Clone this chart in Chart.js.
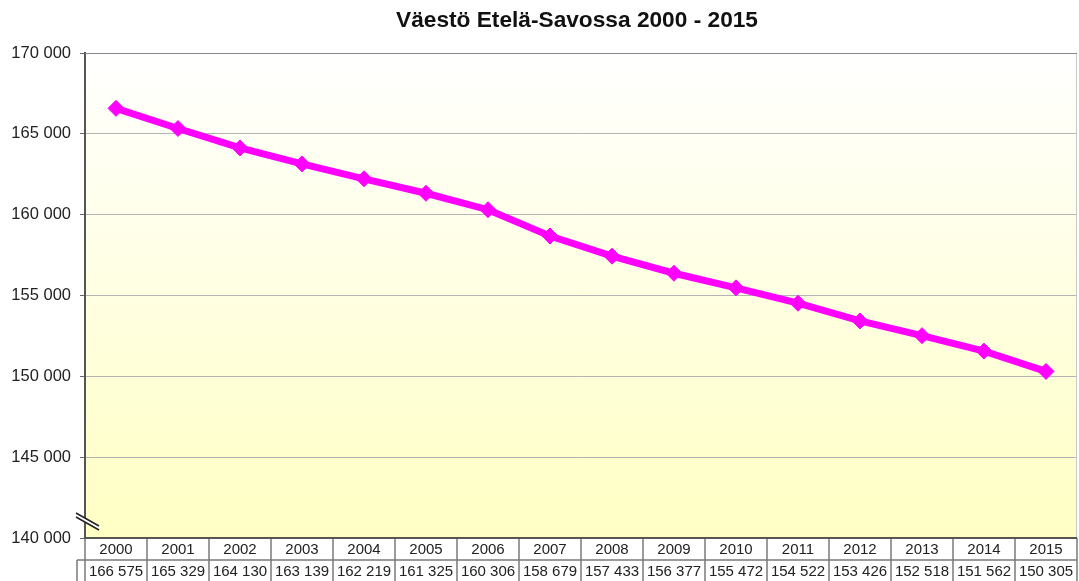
<!DOCTYPE html>
<html>
<head>
<meta charset="utf-8">
<script src="https://cdn.jsdelivr.net/npm/chart.js@4/dist/chart.umd.min.js"></script>
<style>
  html, body { margin: 0; padding: 0; background: #ffffff; }
  #wrap { width: 1079px; height: 581px; position: relative; }
</style>
</head>
<body>
<div id="wrap"><canvas id="c" width="1079" height="581"></canvas></div>
<script>
const chartTitle = 'Väestö Etelä-Savossa 2000 - 2015';
const years = ['2000','2001','2002','2003','2004','2005','2006','2007','2008','2009','2010','2011','2012','2013','2014','2015'];
const population = [166575,165329,164130,163139,162219,161325,160306,158679,157433,156377,155472,154522,153426,152518,151562,150305];
const yMin = 140000;
const yMax = 170000;
const yStep = 5000;

function fmt(v) {
  return String(Math.round(v)).replace(/\B(?=(\d{3})+(?!\d))/g, ' ');
}

const FONT = "'Liberation Sans', Arial, sans-serif";

const bgPlugin = {
  id: 'bg',
  beforeDraw(chart) {
    const {ctx, chartArea: a} = chart;
    const g = ctx.createLinearGradient(0, a.top, 0, a.bottom);
    g.addColorStop(0, '#ffffff');
    g.addColorStop(1, '#ffffc4');
    ctx.save();
    ctx.fillStyle = g;
    ctx.fillRect(a.left, a.top, a.right - a.left, a.bottom - a.top);
    ctx.restore();
  }
};

const decoPlugin = {
  id: 'deco',
  afterDraw(chart) {
    const {ctx, chartArea: a} = chart;
    const xs = chart.scales.x;
    ctx.save();
    // title
    ctx.fillStyle = '#111111';
    ctx.font = 'bold 22.7px ' + FONT;
    ctx.textAlign = 'center';
    ctx.textBaseline = 'middle';
    ctx.fillText(chartTitle, 577, 21);

    // right border
    ctx.strokeStyle = '#c8c8c8';
    ctx.lineWidth = 1;
    ctx.beginPath();
    ctx.moveTo(a.right - 0.5, a.top);
    ctx.lineTo(a.right - 0.5, a.bottom);
    ctx.stroke();
    // top border
    ctx.strokeStyle = '#888888';
    ctx.beginPath();
    ctx.moveTo(a.left, a.top + 0.5);
    ctx.lineTo(a.right, a.top + 0.5);
    ctx.stroke();

    // data table
    const n = years.length;
    const w = xs.getPixelForValue(1) - xs.getPixelForValue(0);
    const row1Top = a.bottom;
    const row1Bot = a.bottom + 22;
    const row2Bot = chart.height + 2;
    ctx.strokeStyle = '#7a7a7a';
    ctx.lineWidth = 1.5;
    ctx.beginPath();
    ctx.moveTo(a.left - 8, row1Bot);
    ctx.lineTo(a.right, row1Bot);
    ctx.moveTo(a.left - 8, row1Bot);
    ctx.lineTo(a.left - 8, row2Bot);
    for (let i = 0; i <= n; i++) {
      const x = xs.getPixelForValue(i) - w / 2;
      ctx.moveTo(x, row1Top);
      ctx.lineTo(x, row2Bot);
    }
    ctx.stroke();

    // bottom axis line
    ctx.strokeStyle = '#555555';
    ctx.lineWidth = 2;
    ctx.beginPath();
    ctx.moveTo(a.left - 1, a.bottom);
    ctx.lineTo(a.right, a.bottom);
    ctx.stroke();

    ctx.fillStyle = '#222222';
    ctx.font = '15px ' + FONT;
    ctx.textAlign = 'center';
    ctx.textBaseline = 'middle';
    for (let i = 0; i < n; i++) {
      const x = xs.getPixelForValue(i);
      ctx.fillText(years[i], x, row1Top + 12);
      ctx.fillText(fmt(population[i]), x, row1Bot + 12);
    }

    // axis break marker
    const bx = a.left, by = a.bottom - 18;
    ctx.fillStyle = '#ffffff';
    ctx.beginPath();
    ctx.moveTo(bx - 9, by - 7);
    ctx.lineTo(bx + 14, by + 6);
    ctx.lineTo(bx + 14, by + 10);
    ctx.lineTo(bx - 9, by - 3);
    ctx.closePath();
    ctx.fill();
    ctx.strokeStyle = '#222222';
    ctx.lineWidth = 1.5;
    ctx.beginPath();
    ctx.moveTo(bx - 9, by - 7);
    ctx.lineTo(bx + 14, by + 6);
    ctx.moveTo(bx - 9, by - 3);
    ctx.lineTo(bx + 14, by + 10);
    ctx.stroke();
    ctx.restore();
  }
};

new Chart(document.getElementById('c'), {
  type: 'line',
  data: {
    labels: years,
    datasets: [{
      label: 'Väestö',
      data: population,
      borderColor: '#ff00ff',
      backgroundColor: '#ff00ff',
      borderWidth: 7,
      pointStyle: 'rectRot',
      pointRadius: 8,
      pointHoverRadius: 8,
      pointBorderWidth: 1,
      tension: 0,
      fill: false
    }]
  },
  options: {
    responsive: false,
    animation: false,
    devicePixelRatio: 1,
    layout: { autoPadding: false, padding: { top: 53, left: 0, right: 2, bottom: 43 } },
    plugins: {
      legend: { display: false },
      title: { display: false },
      tooltip: { enabled: false }
    },
    scales: {
      x: {
        type: 'category',
        display: false,
        offset: true
      },
      y: {
        min: yMin,
        max: yMax,
        afterFit(scale) { scale.width = 85; },
        ticks: {
          stepSize: yStep,
          padding: 9,
          color: '#222222',
          font: { family: FONT, size: 16.5 },
          callback: (v) => fmt(v)
        },
        grid: {
          color: '#b4b4b4',
          lineWidth: 1,
          tickLength: 5,
          tickColor: '#666666',
          drawOnChartArea: true
        },
        border: { color: '#555555', width: 2 }
      }
    }
  },
  plugins: [bgPlugin, decoPlugin]
});
</script>
</body>
</html>
